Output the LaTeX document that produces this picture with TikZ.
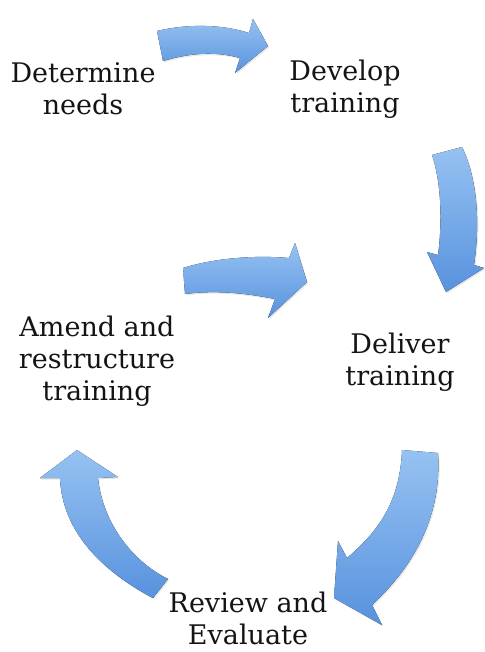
\documentclass[tikz,border=0pt]{standalone}
\usepackage{fontspec}
\setmainfont{DejaVu Serif}
\usetikzlibrary{shadows}
\definecolor{arrlight}{RGB}{150,194,242}
\definecolor{arrdark}{RGB}{88,146,222}
\definecolor{txt}{RGB}{20,20,20}
\tikzset{
  blockarrow/.style={top color=arrlight, bottom color=arrdark, draw=none,
    drop shadow={opacity=0.18, shadow xshift=1.2pt, shadow yshift=-1.5pt}},
  label/.style={align=center, text=txt, font=\fontsize{27}{32}\selectfont, inner sep=0pt}
}
\begin{document}
\begin{tikzpicture}[x=1pt,y=-1pt]
\useasboundingbox (0,0) rectangle (484,652);
% labels
\node[label] (needs) at (83,89) {Determine\\needs};
\node[label] (develop) at (345,89) {Develop\\training};
\node[label] (amend) at (97,361) {Amend and\\restructure\\training};
\node[label] (deliver) at (400,362) {Deliver\\training};
\node[label] (review) at (248,618) {Review and\\Evaluate};
% arrow 1 (top)
\fill[blockarrow] (157,31) .. controls (190,23) and (225,25) .. (249,33) -- (253,19) -- (268,46) -- (235,73) -- (240,58) .. controls (215,51) and (190,53) .. (163,61) -- cycle;
% arrow 2 (right, down)
\fill[blockarrow] (432,155) .. controls (442,185) and (442,225) .. (438,255) -- (427,252) -- (446,292) -- (484,268) -- (474,265) .. controls (480,225) and (478,180) .. (462,147) -- cycle;
% arrow 3 (middle, right)
\fill[blockarrow] (183,268) .. controls (215,258) and (255,255) .. (289,258) -- (295,243) -- (307,282) -- (268,318) -- (275,299) .. controls (245,293) and (215,290) .. (185,294) -- cycle;
% arrow 4 (bottom right, down-left)
\fill[blockarrow] (402,450) .. controls (400,500) and (380,530) .. (347,558) -- (338,541) -- (334,598) -- (382,625) -- (372,605) .. controls (415,565) and (442,515) .. (438,453) -- cycle;
% arrow 5 (bottom left, up)
\fill[blockarrow] (153,598) .. controls (100,570) and (62,530) .. (60,478) -- (40,478) -- (77,450) -- (118,477) -- (98,478) .. controls (102,520) and (130,560) .. (168,579) -- cycle;
\end{tikzpicture}
\end{document}
